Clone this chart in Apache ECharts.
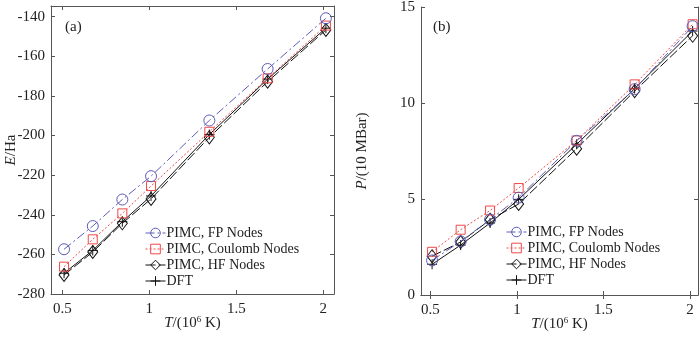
<!DOCTYPE html>
<html><head><meta charset="utf-8">
<script src="https://cdn.jsdelivr.net/npm/echarts@6/dist/echarts.min.js"></script>
<style>html,body{margin:0;padding:0;background:#fff}#c{width:700px;height:338px}</style>
</head><body><div id="c"></div>
<script>
const T = [0.51, 0.675, 0.845, 1.01, 1.345, 1.68, 2.015];
const seriesNames = ['PIMC, FP Nodes', 'PIMC, Coulomb Nodes', 'PIMC, HF Nodes', 'DFT'];
const E_FP = [-257.4, -245.7, -232.3, -220.5, -192.4, -166.4, -140.8];
const E_Coul = [-266.2, -252.4, -239.3, -225.5, -198.1, -171.1, -144.5];
const E_HF = [-270.4, -258.8, -244.3, -232.0, -200.9, -172.8, -146.7];
const E_DFT = [-269.5, -258.0, -243.5, -230.5, -199.5, -171.5, -145.8];
const P_FP = [1.8, 2.79, 3.93, 5.07, 8.03, 10.72, 14.0];
const P_Coul = [2.25, 3.40, 4.40, 5.57, 8.05, 10.97, 14.1];
const P_HF = [2.02, 2.76, 3.92, 4.74, 7.62, 10.62, 13.5];
const P_DFT = [1.6, 2.6, 3.75, 4.98, 7.85, 10.75, 13.75];
const xTicks = [0.5, 1, 1.5, 2];
const eTicks = [-280, -260, -240, -220, -200, -180, -160, -140];
const pTicks = [0, 5, 10, 15];

const FONT = 'Liberation Serif';
const frameColor = '#555';
const styles = [
  {color: '#5c5cb8', type: [9, 3, 2, 3], symbol: 'circle', size: 11},
  {color: '#f04848', type: [2, 2], symbol: 'rect', size: 9},
  {color: '#111', type: [10, 3], symbol: 'diamond', size: [10, 13]},
  {color: '#111', type: 'solid', symbol: 'path://M5,0L5,10M0,5L10,5', size: 10}
];
function zip(x, y){ return x.map((v,i)=>[v, y[i]]); }
function mkSeries(ys, xi, yi){
  return ys.map((y, k) => ({
    name: seriesNames[k], type: 'line', xAxisIndex: xi, yAxisIndex: yi,
    data: zip(T, y), symbol: styles[k].symbol, symbolSize: styles[k].size,
    showSymbol: true, animation: false, z: 10 - k,
    lineStyle: {color: styles[k].color, width: 1, type: styles[k].type},
    itemStyle: {color: 'rgba(255,255,255,0)', borderColor: styles[k].color, borderWidth: 1}
  }));
}
const lab = {fontFamily: FONT, fontSize: 15, color: '#222'};
function xAxes(gi, min, max, ticks){
  return [
    {gridIndex: gi, type: 'value', min, max, position: 'bottom',
     name: '{i|T}/(10{s|6} K)', nameLocation: 'middle', nameGap: 21, nameMoveOverlap: false,
     nameTextStyle: {fontFamily: FONT, fontSize: 15, color: '#222', verticalAlign: 'top',
       rich: {i: {fontFamily: FONT, fontSize: 15, fontStyle: 'italic', color: '#222'},
              s: {fontFamily: FONT, fontSize: 9, color: '#222', verticalAlign: 'top', padding: [0,0,7,0]}}},
     axisLine: {show: true, lineStyle: {color: frameColor}},
     axisTick: {show: true, inside: true, length: 4, customValues: ticks, lineStyle: {color: frameColor}},
     axisLabel: Object.assign({margin: 8, customValues: ticks}, lab),
     splitLine: {show: false}},
    {gridIndex: gi, type: 'value', min, max, position: 'top',
     axisLine: {show: true, lineStyle: {color: frameColor}},
     axisTick: {show: true, inside: true, length: 4, customValues: ticks, lineStyle: {color: frameColor}},
     axisLabel: {show: false}, splitLine: {show: false}}
  ];
}
function yAxes(gi, min, max, ticks, name, gap){
  return [
    {gridIndex: gi, type: 'value', min, max, position: 'left',
     name, nameLocation: 'middle', nameGap: gap, nameRotate: 90, nameMoveOverlap: false,
     nameTextStyle: {fontFamily: FONT, fontSize: 15, color: '#222',
       rich: {i: {fontFamily: FONT, fontSize: 15, fontStyle: 'italic', color: '#222'}}},
     axisLine: {show: true, lineStyle: {color: frameColor}},
     axisTick: {show: true, inside: true, length: 4, customValues: ticks, lineStyle: {color: frameColor}},
     axisLabel: Object.assign({margin: 6, customValues: ticks}, lab),
     splitLine: {show: false}},
    {gridIndex: gi, type: 'value', min, max, position: 'right',
     axisLine: {show: true, lineStyle: {color: frameColor}},
     axisTick: {show: true, inside: true, length: 4, customValues: ticks, lineStyle: {color: frameColor}},
     axisLabel: {show: false}, splitLine: {show: false}}
  ];
}
const legendBase = {orient: 'vertical', itemWidth: 20, itemHeight: 12, itemGap: 2,
  itemStyle: {borderWidth: 1}, lineStyle: {width: 1},
  textStyle: {fontFamily: FONT, fontSize: 14, color: '#222', padding: [0,0,0,-4]}, data: seriesNames,
  selectedMode: false};
const option = {
  animation: false,
  backgroundColor: '#fff',
  title: [
    {text: '(a)', left: 60, top: 15, textStyle: {fontFamily: FONT, fontSize: 15, fontWeight: 'normal', color: '#222'}},
    {text: '(b)', left: 428, top: 15, textStyle: {fontFamily: FONT, fontSize: 15, fontWeight: 'normal', color: '#222'}}
  ],
  grid: [
    {left: 51, right: 366, top: 6, bottom: 44, outerBoundsMode: 'none', containLabel: false},
    {left: 421, right: 2, top: 7, bottom: 43, outerBoundsMode: 'none', containLabel: false}
  ],
  xAxis: [...xAxes(0, 0.435, 2.0615, xTicks), ...xAxes(1, 0.446, 2.046, xTicks)],
  yAxis: [...yAxes(0, -280, -134.6, eTicks, '{i|E}/Ha', 32), ...yAxes(1, 0, 15, pTicks, '{i|P}/(10 MBar)', 51)],
  legend: [
    Object.assign({left: 140, top: 221}, legendBase),
    Object.assign({left: 501, top: 220}, legendBase)
  ],
  series: [...mkSeries([E_FP, E_Coul, E_HF, E_DFT], 0, 0), ...mkSeries([P_FP, P_Coul, P_HF, P_DFT], 2, 2)]
};
const chart = echarts.init(document.getElementById('c'), null, {renderer: 'canvas'});
chart.setOption(option);
</script></body></html>
